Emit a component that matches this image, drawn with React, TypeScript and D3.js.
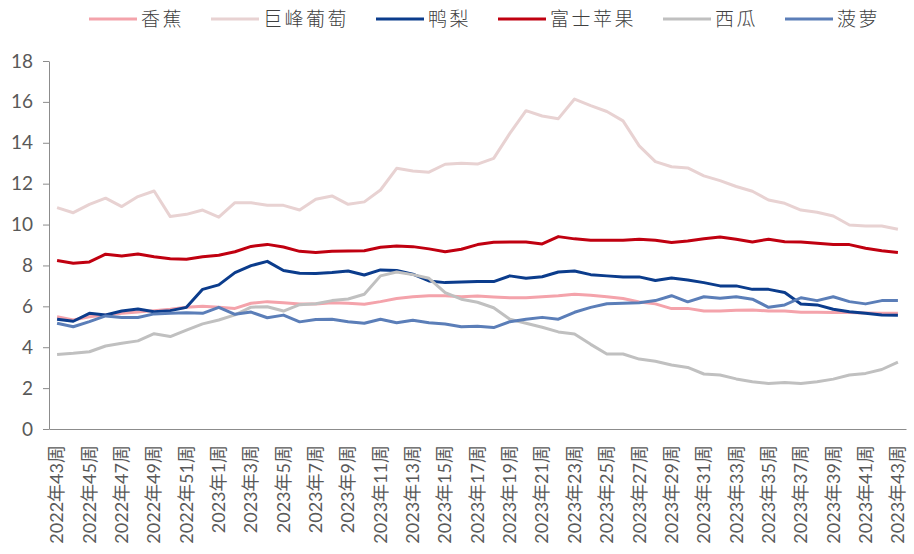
import { useRef, useEffect } from 'react'
import * as d3 from 'd3'

const WIDTH = 914
const HEIGHT = 554
const MARGIN = { top: 61, right: 8, bottom: 125, left: 49 }

// 2022年43周 .. 2022年52周, 2023年1周 .. 2023年43周
const weeks: string[] = [
  ...d3.range(43, 53).map((w) => `2022年${w}周`),
  ...d3.range(1, 44).map((w) => `2023年${w}周`),
]

const banana = [
  5.49, 5.33, 5.49, 5.58, 5.66, 5.72, 5.79, 5.86, 5.95, 6.0, 5.95, 5.9, 6.15, 6.23, 6.18, 6.12, 6.12, 6.18,
  6.15, 6.1, 6.23, 6.38, 6.47, 6.52, 6.52, 6.47, 6.5, 6.46, 6.42, 6.42, 6.47, 6.52, 6.59, 6.54, 6.47, 6.38,
  6.21, 6.12, 5.89, 5.9, 5.77, 5.77, 5.81, 5.82, 5.77, 5.77, 5.71, 5.71, 5.7, 5.7, 5.68, 5.66, 5.66,
]
const grape = [
  10.83, 10.58, 10.99, 11.29, 10.88, 11.37, 11.64, 10.39, 10.5, 10.71, 10.36, 11.07, 11.07, 10.94, 10.94,
  10.71, 11.24, 11.4, 10.99, 11.11, 11.69, 12.75, 12.62, 12.56, 12.95, 13.0, 12.96, 13.24, 14.46, 15.57,
  15.31, 15.18, 16.14, 15.82, 15.53, 15.07, 13.85, 13.08, 12.83, 12.77, 12.38, 12.15, 11.86, 11.63, 11.2,
  11.04, 10.71, 10.6, 10.42, 9.98, 9.93, 9.93, 9.77,
]
const pear = [
  5.37, 5.27, 5.66, 5.58, 5.77, 5.87, 5.74, 5.79, 5.95, 6.83, 7.05, 7.65, 7.99, 8.2, 7.75, 7.62, 7.6, 7.65,
  7.73, 7.53, 7.78, 7.75, 7.57, 7.24, 7.16, 7.19, 7.21, 7.21, 7.49, 7.37, 7.45, 7.68, 7.73, 7.55, 7.49,
  7.44, 7.44, 7.26, 7.39, 7.29, 7.16, 7.0, 7.0, 6.83, 6.83, 6.68, 6.11, 6.07, 5.86, 5.74, 5.66, 5.58, 5.56,
]
const apple = [
  8.24, 8.11, 8.17, 8.55, 8.46, 8.56, 8.43, 8.33, 8.3, 8.43, 8.5, 8.67, 8.93, 9.03, 8.9, 8.69, 8.63, 8.69,
  8.71, 8.72, 8.89, 8.95, 8.92, 8.81, 8.67, 8.79, 9.02, 9.13, 9.15, 9.15, 9.05, 9.41, 9.3, 9.23, 9.23, 9.23,
  9.28, 9.23, 9.12, 9.2, 9.31, 9.39, 9.28, 9.15, 9.28, 9.16, 9.15, 9.08, 9.02, 9.02, 8.84, 8.72, 8.63,
]
const watermelon = [
  3.65, 3.7, 3.78, 4.06, 4.19, 4.31, 4.66, 4.52, 4.84, 5.14, 5.33, 5.58, 5.96, 5.98, 5.77, 6.08, 6.13, 6.28,
  6.36, 6.59, 7.49, 7.68, 7.55, 7.37, 6.67, 6.35, 6.2, 5.93, 5.37, 5.17, 4.98, 4.75, 4.65, 4.14, 3.67, 3.67,
  3.42, 3.31, 3.13, 3.01, 2.69, 2.64, 2.45, 2.31, 2.23, 2.28, 2.23, 2.31, 2.44, 2.64, 2.72, 2.91, 3.27,
]
const pineapple = [
  5.17, 5.0, 5.25, 5.53, 5.45, 5.45, 5.63, 5.66, 5.69, 5.66, 5.95, 5.61, 5.72, 5.44, 5.57, 5.24, 5.36, 5.37,
  5.25, 5.17, 5.37, 5.2, 5.32, 5.2, 5.14, 5.0, 5.02, 4.96, 5.25, 5.37, 5.46, 5.37, 5.71, 5.95, 6.13, 6.15,
  6.18, 6.28, 6.52, 6.22, 6.47, 6.39, 6.47, 6.35, 5.95, 6.07, 6.42, 6.28, 6.47, 6.23, 6.12, 6.28, 6.28,
]

const seriesNames = ['香蕉', '巨峰葡萄', '鸭梨', '富士苹果', '西瓜', '菠萝']
const seriesValues = [banana, grape, pear, apple, watermelon, pineapple]
const seriesColors = ['#f4a3ab', '#e8d2d2', '#0b3c8c', '#c00010', '#c0c0c0', '#5b7eb8']

const yTicks = [0, 2, 4, 6, 8, 10, 12, 14, 16, 18]

export default function App() {
  const svgRef = useRef<SVGSVGElement>(null)

  useEffect(() => {
    if (!svgRef.current) return
    const el = d3.select(svgRef.current)
    el.selectAll('*').remove()

    const innerW = WIDTH - MARGIN.left - MARGIN.right
    const innerH = HEIGHT - MARGIN.top - MARGIN.bottom

    const svg = el.append('g').attr('transform', `translate(${MARGIN.left},${MARGIN.top})`)

    const x = d3.scaleBand().domain(weeks).range([0, innerW])
    const y = d3.scaleLinear().domain([0, 18]).range([innerH, 0])
    const cx = (d: string) => (x(d) ?? 0) + x.bandwidth() / 2

    // Y axis
    svg.append('g')
      .call(d3.axisLeft(y).tickValues(yTicks).tickSize(6).tickSizeOuter(0).tickPadding(10))
      .call((g) => {
        g.select('.domain').attr('stroke', '#8c8c8c')
        g.selectAll('.tick line').attr('stroke', '#8c8c8c')
        g.selectAll('text').attr('fill', '#595959').attr('font-size', '19px')
          .attr('font-family', 'Lato, "Noto Sans", sans-serif')
      })

    // X axis — every 2nd week, vertical labels
    svg.append('g')
      .attr('transform', `translate(0,${innerH})`)
      .call(
        d3.axisBottom(x)
          .tickValues(weeks.filter((_, i) => i % 2 === 0))
          .tickSize(0)
          .tickSizeOuter(0)
      )
      .call((g) => {
        g.select('.domain').attr('stroke', '#8c8c8c')
        g.selectAll('text')
          .attr('fill', '#595959')
          .attr('font-size', '18px')
          .attr('font-family', 'Lato, "Noto Sans CJK SC", sans-serif')
          .attr('transform', 'rotate(-90)')
          .attr('text-anchor', 'end')
          .attr('x', -16)
          .attr('y', 0)
          .attr('dy', '0.35em')
      })

    // Lines
    const line = d3.line<number>()
      .x((_, i) => cx(weeks[i]))
      .y((d) => y(d))

    seriesValues.forEach((vals, k) => {
      svg.append('path')
        .datum(vals)
        .attr('fill', 'none')
        .attr('stroke', seriesColors[k])
        .attr('stroke-width', 3)
        .attr('stroke-linejoin', 'round')
        .attr('d', line)
    })

    // Legend
    const legend = el.append('g').attr('transform', 'translate(89,19)')
    let lx = 0
    seriesNames.forEach((name, k) => {
      legend.append('line')
        .attr('x1', lx).attr('x2', lx + 48)
        .attr('y1', 0).attr('y2', 0)
        .attr('stroke', seriesColors[k])
        .attr('stroke-width', 3)
      const textW = name.length * 21.5
      legend.append('text')
        .attr('x', lx + 52)
        .attr('y', 0)
        .attr('dy', '0.35em')
        .attr('font-size', '19px')
        .attr('letter-spacing', '2.5px')
        .attr('font-family', '"Noto Sans CJK SC", sans-serif')
        .attr('font-weight', 300)
        .attr('fill', '#404040')
        .text(name)
      lx += 52 + textW + 27
    })
  }, [])

  return (
    <div style={{ position: 'absolute', left: 0, top: 0 }}>
      <svg ref={svgRef} width={WIDTH} height={HEIGHT} style={{ display: 'block', background: '#fff' }} />
    </div>
  )
}
